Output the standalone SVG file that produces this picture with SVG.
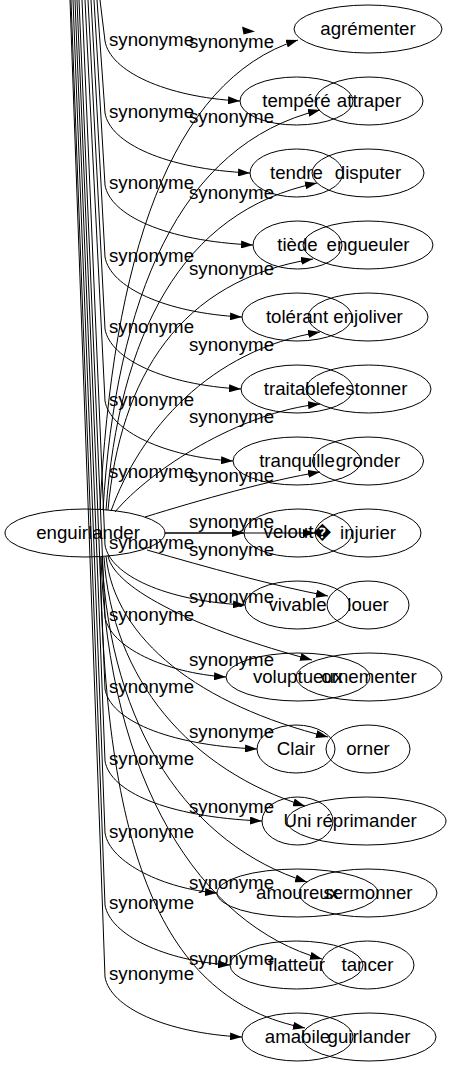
<svg xmlns="http://www.w3.org/2000/svg" width="452" height="1067" viewBox="0 0 452 1067">
<style>
.e{fill:none;stroke:#000;stroke-width:1}
.n ellipse{fill:none;stroke:#000;stroke-width:1}
.n text,.lb{font-family:"Liberation Sans",Arial,sans-serif;font-size:18.67px;fill:#000;text-anchor:middle}
.lb{font-size:18.67px}
.mono{font-family:"DejaVu Sans Mono",monospace;font-size:15px}
</style>
<defs>
<marker id="ah" markerWidth="12" markerHeight="8" refX="12" refY="4" orient="auto" markerUnits="userSpaceOnUse"><path d="M0,0 L12,4 L0,8 z" fill="#000"/></marker>
</defs>
<rect width="452" height="1067" fill="#fff"/>
<g id="edges">
<!-- L edges -->
<path class="e" marker-end="url(#ah)" d="M100,0 L105,41 C110,71 165,97 240,101"/>
<path class="e" marker-end="url(#ah)" d="M97,0 L105,113 C110,143 165,169 250,173"/>
<path class="e" marker-end="url(#ah)" d="M94,0 L105,185 C110,215 165,241 253,245"/>
<path class="e" marker-end="url(#ah)" d="M91,0 L105,257 C110,287 165,313 242,317"/>
<path class="e" marker-end="url(#ah)" d="M88,0 L105,329 C110,359 165,385 241,389"/>
<path class="e" marker-end="url(#ah)" d="M85,0 L105,401 C110,431 165,457 233,461"/>
<path class="e" marker-end="url(#ah)" d="M165,533 L244,533"/>
<path class="e" marker-end="url(#ah)" d="M82,0 L105,545 C110,575 165,601 245,605"/>
<path class="e" marker-end="url(#ah)" d="M79,0 L105,617 C110,647 165,673 226,677"/>
<path class="e" marker-end="url(#ah)" d="M77,0 L105,689 C110,719 165,745 257,749"/>
<path class="e" marker-end="url(#ah)" d="M75,0 L105,761 C110,791 165,817 262,821"/>
<path class="e" marker-end="url(#ah)" d="M73,0 L105,833 C110,863 165,889 217,893"/>
<path class="e" marker-end="url(#ah)" d="M71,0 L105,905 C110,935 165,961 230,965"/>
<path class="e" marker-end="url(#ah)" d="M70,0 L105,977 C110,1007 165,1033 242,1037"/>
<!-- R edges -->
<path class="e" marker-end="url(#ah)" d="M100,510 C112,260 170,80 298,40"/>
<path class="e" marker-end="url(#ah)" d="M103,510 C116,298 179,144 320,110"/>
<path class="e" marker-end="url(#ah)" d="M106,510 C119,337 180,211 317,183"/>
<path class="e" marker-end="url(#ah)" d="M108,510 C120,377 180,280 313,259"/>
<path class="e" marker-end="url(#ah)" d="M111,511 C140,430 210,350 320,332"/>
<path class="e" marker-end="url(#ah)" d="M115,512 C150,470 240,412 320,404"/>
<path class="e" marker-end="url(#ah)" d="M145,517 C200,500 270,480 320,472"/>
<path class="e" marker-end="url(#ah)" d="M165,533 L315,533"/>
<path class="e" marker-end="url(#ah)" d="M147,550 C210,568 270,585 328,596"/>
<path class="e" marker-end="url(#ah)" d="M108,556 C115,590 200,630 312,660"/>
<path class="e" marker-end="url(#ah)" d="M106,556 C115,640 200,705 328,737"/>
<path class="e" marker-end="url(#ah)" d="M104,557 C112,680 190,770 305,806"/>
<path class="e" marker-end="url(#ah)" d="M102,557 C110,730 190,845 307,882"/>
<path class="e" marker-end="url(#ah)" d="M101,557 C108,780 200,925 322,959"/>
<path class="e" marker-end="url(#ah)" d="M100,557 C105,850 160,1000 305,1028"/>
<polygon points="242,26.5 255,31.5 243.5,34.5" fill="#000"/>
<!-- labels -->
<g>
<text class="lb" x="151.5" y="46">synonyme</text>
<text class="lb" x="151.5" y="118">synonyme</text>
<text class="lb" x="151.5" y="189">synonyme</text>
<text class="lb" x="151.5" y="262">synonyme</text>
<text class="lb" x="151.5" y="333">synonyme</text>
<text class="lb" x="151.5" y="406">synonyme</text>
<text class="lb" x="151.5" y="478">synonyme</text>
<text class="lb" x="151.5" y="549">synonyme</text>
<text class="lb" x="151.5" y="621">synonyme</text>
<text class="lb" x="151.5" y="693">synonyme</text>
<text class="lb" x="151.5" y="765">synonyme</text>
<text class="lb" x="151.5" y="838">synonyme</text>
<text class="lb" x="151.5" y="909">synonyme</text>
<text class="lb" x="151.5" y="980">synonyme</text>
<text class="lb" x="231.5" y="48">synonyme</text>
<text class="lb" x="231.5" y="123">synonyme</text>
<text class="lb" x="231.5" y="199">synonyme</text>
<text class="lb" x="231.5" y="275">synonyme</text>
<text class="lb" x="231.5" y="351">synonyme</text>
<text class="lb" x="231.5" y="423">synonyme</text>
<text class="lb" x="231.5" y="482">synonyme</text>
<text class="lb" x="231.5" y="528">synonyme</text>
<text class="lb" x="231.5" y="556">synonyme</text>
<text class="lb" x="231.5" y="603">synonyme</text>
<text class="lb" x="231.5" y="666">synonyme</text>
<text class="lb" x="231.5" y="738">synonyme</text>
<text class="lb" x="231.5" y="813">synonyme</text>
<text class="lb" x="231.5" y="889">synonyme</text>
<text class="lb" x="231.5" y="965">synonyme</text>
</g>
</g>
<g id="enguirlander" class="n"><ellipse cx="85" cy="533" rx="80" ry="24"/><text x="88" y="539">enguirlander</text></g>
<g id="tempere" class="n"><ellipse cx="296.5" cy="101" rx="56.5" ry="24"/><text x="296.5" y="107">tempéré</text></g>
<g id="tendre" class="n"><ellipse cx="296.5" cy="173" rx="46.5" ry="24"/><text x="296.5" y="179">tendre</text></g>
<g id="tiede" class="n"><ellipse cx="297.5" cy="245" rx="44.5" ry="24"/><text x="297.5" y="251">tiède</text></g>
<g id="tolerant" class="n"><ellipse cx="297" cy="317" rx="55" ry="24"/><text x="297" y="323">tolérant</text></g>
<g id="traitable" class="n"><ellipse cx="297" cy="389" rx="56" ry="24"/><text x="297" y="395">traitable</text></g>
<g id="tranquille" class="n"><ellipse cx="297" cy="461" rx="64" ry="24"/><text x="297" y="467">tranquille</text></g>
<g id="veloute" class="n"><ellipse cx="298" cy="533" rx="54" ry="24"/><text class="mono" x="298" y="538">velout&#xFFFD;</text></g>
<g id="vivable" class="n"><ellipse cx="297.5" cy="605" rx="52.5" ry="24"/><text x="297.5" y="611">vivable</text></g>
<g id="voluptueux" class="n"><ellipse cx="298" cy="677" rx="72" ry="24"/><text x="298" y="683">voluptueux</text></g>
<g id="clair" class="n"><ellipse cx="296" cy="749" rx="39" ry="24"/><text x="296" y="755">Clair</text></g>
<g id="uni" class="n"><ellipse cx="297.5" cy="821" rx="35.5" ry="24"/><text x="297.5" y="827">Uni</text></g>
<g id="amoureux" class="n"><ellipse cx="297.5" cy="893" rx="80.5" ry="24"/><text x="297.5" y="899">amoureux</text></g>
<g id="flatteur" class="n"><ellipse cx="296.5" cy="965" rx="66.5" ry="24"/><text x="296.5" y="971">flatteur</text></g>
<g id="amabile" class="n"><ellipse cx="297.5" cy="1037" rx="55.5" ry="24"/><text x="297.5" y="1043">amabile</text></g>
<g id="agrementer" class="n"><ellipse cx="368" cy="29" rx="74" ry="24"/><text x="368" y="35">agrémenter</text></g>
<g id="attraper" class="n"><ellipse cx="369" cy="101" rx="54" ry="24"/><text x="369" y="107">attraper</text></g>
<g id="disputer" class="n"><ellipse cx="368" cy="173" rx="56" ry="24"/><text x="368" y="179">disputer</text></g>
<g id="engueuler" class="n"><ellipse cx="368" cy="245" rx="65" ry="24"/><text x="368" y="251">engueuler</text></g>
<g id="enjoliver" class="n"><ellipse cx="368" cy="317" rx="60" ry="24"/><text x="368" y="323">enjoliver</text></g>
<g id="festonner" class="n"><ellipse cx="368.5" cy="389" rx="62.5" ry="24"/><text x="368.5" y="395">festonner</text></g>
<g id="gronder" class="n"><ellipse cx="368" cy="461" rx="55.5" ry="24"/><text x="368" y="467">gronder</text></g>
<g id="injurier" class="n"><ellipse cx="368" cy="533" rx="53" ry="24"/><text x="368" y="539">injurier</text></g>
<g id="louer" class="n"><ellipse cx="368" cy="605" rx="41" ry="24"/><text x="368" y="611">louer</text></g>
<g id="ornementer" class="n"><ellipse cx="369" cy="677" rx="73" ry="24"/><text x="369" y="683">ornementer</text></g>
<g id="orner" class="n"><ellipse cx="368" cy="749" rx="42" ry="24"/><text x="368" y="755">orner</text></g>
<g id="reprimander" class="n"><ellipse cx="366.5" cy="821" rx="79.5" ry="24"/><text x="366.5" y="827">réprimander</text></g>
<g id="sermonner" class="n"><ellipse cx="368" cy="893" rx="69" ry="24"/><text x="368" y="899">sermonner</text></g>
<g id="tancer" class="n"><ellipse cx="367.5" cy="965" rx="46.5" ry="24"/><text x="367.5" y="971">tancer</text></g>
<g id="guirlander" class="n"><ellipse cx="369" cy="1037" rx="67" ry="24"/><text x="369" y="1043">guirlander</text></g>
</svg>
